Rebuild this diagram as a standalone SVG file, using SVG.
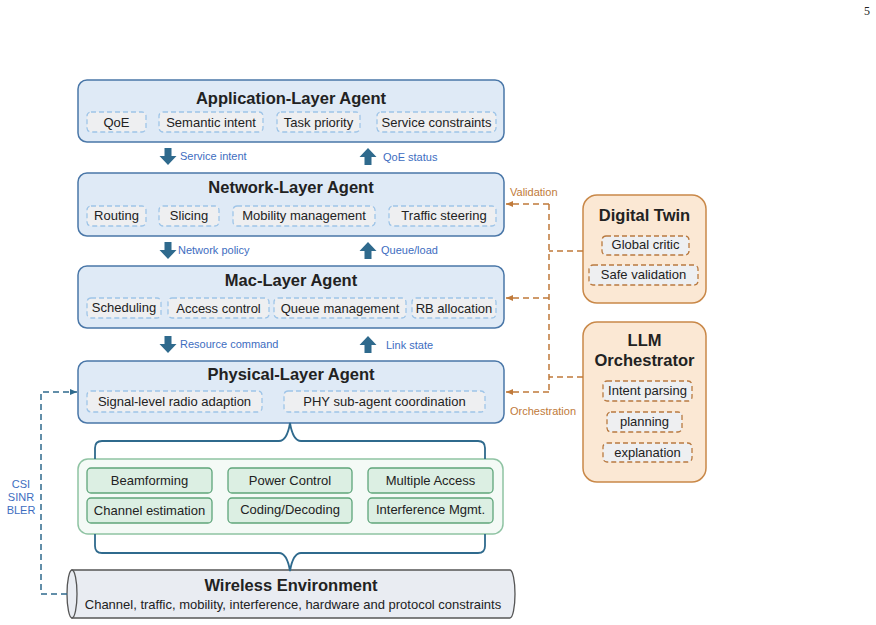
<svg xmlns="http://www.w3.org/2000/svg" width="876" height="625" viewBox="0 0 876 625">
<style>
text{font-family:"Liberation Sans",Arial,sans-serif;}
.layer{fill:#dfeaf6;stroke:#4a77a8;stroke-width:1.5;}
.ttl{font-size:16.5px;font-weight:bold;fill:#222;text-anchor:middle;}
.sub{fill:#eeeff1;stroke:#9fc5e8;stroke-width:1.3;stroke-dasharray:5 3;}
.st{font-size:13px;fill:#222;text-anchor:middle;}
.arr{fill:#2f6a8d;}
.lbl{font-size:11px;fill:#3d6dbf;}
.gout{fill:#f4faf6;stroke:#8fc3a3;stroke-width:1.5;}
.gin{fill:#dcefe3;stroke:#5fa57a;stroke-width:1.3;}
.obox{fill:#fbe8d4;stroke:#c98848;stroke-width:1.5;}
.osub{fill:#eeeff1;stroke:#b97a40;stroke-width:1.3;stroke-dasharray:5 3;}
.oline{fill:none;stroke:#c07a3a;stroke-width:1.5;stroke-dasharray:6 4;}
.olbl{font-size:11px;fill:#c07a3a;}
.brace{fill:none;stroke:#2f6a8d;stroke-width:1.8;}
</style>
<defs>
<marker id="oa" markerWidth="8" markerHeight="8" refX="7" refY="4" orient="auto" markerUnits="userSpaceOnUse"><path d="M0,1 L7,4 L0,7 z" fill="#c07a3a"/></marker>
<marker id="ba" markerWidth="8" markerHeight="8" refX="7" refY="4" orient="auto" markerUnits="userSpaceOnUse"><path d="M0,1 L7,4 L0,7 z" fill="#2f6a8d"/></marker>
<symbol id="dn" overflow="visible"><path d="M-3.5,0 H3.5 V8 H8.5 L0,17 L-8.5,8 H-3.5 Z"/></symbol>
<symbol id="up" overflow="visible"><path d="M-3.5,17 H3.5 V9 H8.5 L0,0 L-8.5,9 H-3.5 Z"/></symbol>
</defs>
<text x="864" y="15" style="font-family:'Liberation Serif',serif;font-size:12px;fill:#222">5</text>

<g id="app-agent">
<rect class="layer" x="78" y="80" width="426" height="62" rx="9"/>
<text class="ttl" x="291" y="104">Application-Layer Agent</text>
<rect class="sub" x="87" y="112" width="59" height="20" rx="4"/><text class="st" x="116.5" y="127">QoE</text>
<rect class="sub" x="159" y="112" width="104" height="20" rx="4"/><text class="st" x="211" y="127">Semantic intent</text>
<rect class="sub" x="277" y="112" width="83" height="20" rx="4"/><text class="st" x="318.5" y="127">Task priority</text>
<rect class="sub" x="377" y="112" width="119" height="20" rx="4"/><text class="st" x="436.5" y="127">Service constraints</text>
</g>

<g id="net-agent">
<rect class="layer" x="78" y="173" width="426" height="63" rx="9"/>
<text class="ttl" x="291" y="193">Network-Layer Agent</text>
<rect class="sub" x="87" y="206" width="59" height="20" rx="4"/><text class="st" x="116.5" y="220">Routing</text>
<rect class="sub" x="159" y="206" width="60" height="20" rx="4"/><text class="st" x="189" y="220">Slicing</text>
<rect class="sub" x="233" y="206" width="142" height="20" rx="4"/><text class="st" x="304" y="220">Mobility management</text>
<rect class="sub" x="389" y="206" width="107" height="20" rx="4"/><text class="st" x="444" y="220">Traffic steering</text>
</g>

<g id="mac-agent">
<rect class="layer" x="78" y="266" width="426" height="62" rx="9"/>
<text class="ttl" x="291" y="286">Mac-Layer Agent</text>
<rect class="sub" x="87" y="298" width="74" height="20" rx="4"/><text class="st" x="124" y="312">Scheduling</text>
<rect class="sub" x="168" y="298" width="101" height="20" rx="4"/><text class="st" x="218.5" y="313">Access control</text>
<rect class="sub" x="274" y="298" width="132" height="20" rx="4"/><text class="st" x="340" y="313">Queue management</text>
<rect class="sub" x="412" y="298" width="84" height="20" rx="4"/><text class="st" x="454" y="313">RB allocation</text>
</g>

<g id="phy-agent">
<rect class="layer" x="78" y="361" width="426" height="62" rx="9"/>
<text class="ttl" x="291" y="380">Physical-Layer Agent</text>
<rect class="sub" x="87" y="391" width="175" height="21" rx="4"/><text class="st" x="174.5" y="406">Signal-level radio adaption</text>
<rect class="sub" x="284" y="391" width="201" height="21" rx="4"/><text class="st" x="384.5" y="406">PHY sub-agent coordination</text>
</g>

<g id="phy-functions">
<rect class="gout" x="78" y="459" width="425" height="75" rx="10"/>
<rect class="gin" x="87" y="468" width="125" height="25" rx="4"/><text class="st" x="149.5" y="485">Beamforming</text>
<rect class="gin" x="228" y="468" width="124" height="25" rx="4"/><text class="st" x="290" y="485">Power Control</text>
<rect class="gin" x="368" y="468" width="125" height="25" rx="4"/><text class="st" x="430.5" y="485">Multiple Access</text>
<rect class="gin" x="87" y="498" width="125" height="25" rx="4"/><text class="st" x="149.5" y="515">Channel estimation</text>
<rect class="gin" x="228" y="498" width="124" height="25" rx="4"/><text class="st" x="290" y="514">Coding/Decoding</text>
<rect class="gin" x="368" y="498" width="125" height="25" rx="4"/><text class="st" x="430.5" y="514">Interference Mgmt.</text>
</g>

<g id="wireless-env">
<path d="M72,570 H510 A5,24 0 0 1 510,618 H72 Z" fill="#e9ecf2" stroke="#555" stroke-width="1.3"/>
<ellipse cx="72" cy="594" rx="5" ry="24" fill="#e9ecf2" stroke="#555" stroke-width="1.3"/>
<text class="ttl" x="291" y="591">Wireless Environment</text>
<text class="st" x="293" y="609">Channel, traffic, mobility, interference, hardware and protocol constraints</text>
</g>

<g id="digital-twin">
<rect class="obox" x="583" y="195" width="123" height="108" rx="14"/>
<text class="ttl" x="644.5" y="221">Digital Twin</text>
<rect class="osub" x="602" y="236" width="87" height="19" rx="4"/><text class="st" x="645.5" y="249">Global critic</text>
<rect class="osub" x="589" y="265" width="109" height="20" rx="4"/><text class="st" x="643.5" y="279">Safe validation</text>
</g>

<g id="llm-orchestrator">
<rect class="obox" x="583" y="322" width="123" height="160" rx="14"/>
<text class="ttl" x="644.5" y="346">LLM</text>
<text class="ttl" x="644.5" y="366">Orchestrator</text>
<rect class="osub" x="603" y="381" width="89" height="20" rx="4"/><text class="st" x="647.5" y="395">Intent parsing</text>
<rect class="osub" x="607" y="412" width="75" height="20" rx="4"/><text class="st" x="644.5" y="426">planning</text>
<rect class="osub" x="603" y="443" width="89" height="19" rx="4"/><text class="st" x="647.5" y="457">explanation</text>
</g>

<g id="connectors">
<g class="arr">
<use href="#dn" x="168" y="148"/>
<use href="#up" x="368" y="148"/>
<use href="#dn" x="168" y="242"/>
<use href="#up" x="368" y="242"/>
<use href="#dn" x="168" y="336"/>
<use href="#up" x="368" y="336"/>
</g>
<text class="lbl" x="180" y="160">Service intent</text>
<text class="lbl" x="383" y="161">QoE status</text>
<text class="lbl" x="178" y="254">Network policy</text>
<text class="lbl" x="381" y="254">Queue/load</text>
<text class="lbl" x="180" y="348">Resource command</text>
<text class="lbl" x="386" y="349">Link state</text>

<path class="brace" d="M95,459 V448 Q95,441 102,441 H279 Q287,441 290,423 Q293,441 301,441 H478 Q485,441 485,448 V459"/>
<path class="brace" d="M95,534 V546 Q95,553 102,553 H279 Q287,553 290,571 Q293,553 301,553 H478 Q485,553 485,546 V534"/>

<path d="M67,594 H41 V392 H77" fill="none" stroke="#2f6a8d" stroke-width="1.5" stroke-dasharray="6 4" marker-end="url(#ba)"/>
<text class="lbl" x="21" y="488" text-anchor="middle">CSI</text>
<text class="lbl" x="21" y="501" text-anchor="middle">SINR</text>
<text class="lbl" x="21" y="514" text-anchor="middle">BLER</text>

<path class="oline" d="M549,204 V392"/>
<path class="oline" d="M583,251 H549"/>
<path class="oline" d="M583,377 H549"/>
<path class="oline" d="M549,204 H506" marker-end="url(#oa)"/>
<path class="oline" d="M549,298 H506" marker-end="url(#oa)"/>
<path class="oline" d="M549,392 H506" marker-end="url(#oa)"/>
<text class="olbl" x="510" y="196">Validation</text>
<text class="olbl" x="510" y="415">Orchestration</text>
</g>
</svg>
